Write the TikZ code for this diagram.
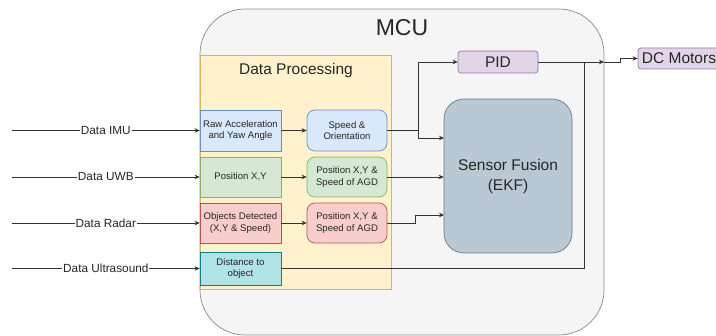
\documentclass[tikz,border=0pt]{standalone}
\usepackage{fontspec}
\setmainfont{Liberation Sans}
\usetikzlibrary{arrows.meta}

\definecolor{McuFill}{HTML}{F5F5F5}
\definecolor{McuLine}{HTML}{8A8A8A}
\definecolor{ProcFill}{HTML}{FFF2CC}
\definecolor{ProcLine}{HTML}{D6B656}
\definecolor{BlueFill}{HTML}{DAE8FC}
\definecolor{BlueLine}{HTML}{6C8EBF}
\definecolor{GreenFill}{HTML}{D5E8D4}
\definecolor{GreenLine}{HTML}{82B366}
\definecolor{RedFill}{HTML}{F8CECC}
\definecolor{RedLine}{HTML}{B85450}
\definecolor{TealFill}{HTML}{B0E3E6}
\definecolor{TealLine}{HTML}{0E8088}
\definecolor{PurpleFill}{HTML}{E1D5E7}
\definecolor{PurpleLine}{HTML}{9673A6}
\definecolor{FusionFill}{HTML}{BAC8D3}
\definecolor{FusionLine}{HTML}{5F7A91}

\tikzset{
  box/.style={draw, line width=0.7pt, inner sep=0pt, align=center,
    minimum width=81pt, minimum height=40pt, text=black!85,
    font=\fontsize{9.6}{11.7}\selectfont},
  rbox/.style={box, rounded corners=8pt, minimum width=80pt},
  wire/.style={draw=black!80, line width=0.7pt},
  arrow/.style={wire, -{Stealth[length=5pt,width=4.5pt]}},
  inlabel/.style={fill=white, inner sep=1pt, text=black!85,
    font=\fontsize{11.8}{13}\selectfont}
}

\begin{document}
\begin{tikzpicture}[x=1pt,y=-1pt]

 \useasboundingbox (0,0) rectangle (716,336);

 %%%%%%%%%% Points pour les connecteurs %%%%%%%%%%
 \coordinate (inimu) at (12,130.5);
 \coordinate (inuwb) at (12,177);
 \coordinate (inradar) at (12,223);
 \coordinate (inultra) at (12,268.5);
 \coordinate (j1) at (418,130.5);
 \coordinate (j2) at (415,223);
 \coordinate (j3) at (584,62);
 \coordinate (sfin1) at (444,138);
 \coordinate (sfin3) at (444,215);
 \coordinate (mcuedge) at (604,62);

 % MCU and Data Processing
 \node[draw=McuLine, fill=McuFill, line width=0.7pt, rounded corners=45pt,
   minimum width=404pt, minimum height=326pt] (mcu) at (402,172) {};
 \node[text=black!85, font=\fontsize{23}{26}\selectfont] (mcutitle) at (402,28) {MCU};
 \node[draw=ProcLine, fill=ProcFill, line width=0.7pt,
   minimum width=191pt, minimum height=234pt] (proc) at (295.5,172) {};
 \node[text=black!85, font=\fontsize{15.5}{18}\selectfont] (proctitle) at (296,70) {Data Processing};

 % First column
 \node[box, draw=BlueLine, fill=BlueFill, minimum height=41pt] (raw) at (240.5,130.5) {Raw Acceleration\\and Yaw Angle};
 \node[box, draw=GreenLine, fill=GreenFill] (posxy) at (240.5,177) {Position X,Y};
 \node[box, draw=RedLine, fill=RedFill] (obj) at (240.5,223) {Objects Detected\\(X,Y \& Speed)};
 \node[box, draw=TealLine, fill=TealFill, minimum height=33pt] (dist) at (240.5,268.5) {Distance to\\object};

 % Second column
 \node[rbox, draw=BlueLine, fill=BlueFill, minimum height=41pt] (speed) at (347,130.5) {Speed \&\\Orientation};
 \node[rbox, draw=GreenLine, fill=GreenFill] (posu) at (347,177) {Position X,Y \&\\Speed of AGD};
 \node[rbox, draw=RedLine, fill=RedFill] (posr) at (347,223) {Position X,Y \&\\Speed of AGD};

 % PID, fusion and motors
 \node[box, draw=PurpleLine, fill=PurpleFill, rounded corners=3pt, minimum width=80pt,
   minimum height=22pt, font=\fontsize{15.5}{18}\selectfont] (pid) at (498,62) {PID};
 \node[box, draw=FusionLine, fill=FusionFill, rounded corners=20pt, minimum width=128pt,
   minimum height=154pt, font=\fontsize{15.5}{20}\selectfont] (sf) at (508,176) {Sensor Fusion\\(EKF)};
 \node[box, draw=PurpleLine, fill=PurpleFill, rounded corners=3pt, minimum width=82pt,
   minimum height=21pt, font=\fontsize{15.5}{18}\selectfont] (dc) at (679,58.5) {DC Motors};

 % Inputs
 \draw[arrow] (inimu) -- node[inlabel] (lblimu) {Data IMU} (raw.west);
 \draw[arrow] (inuwb) -- node[inlabel] (lbluwb) {Data UWB} (posxy.west);
 \draw[arrow] (inradar) -- node[inlabel] (lblradar) {Data Radar} (obj.west);
 \draw[arrow] (inultra) -- node[inlabel] (lblultra) {Data Ultrasound} (dist.west);

 % Processing
 \draw[arrow] (raw.east) -- (speed.west);
 \draw[arrow] (posxy.east) -- (posu.west);
 \draw[arrow] (obj.east) -- (posr.west);

 % To fusion and PID
 \draw[wire] (speed.east) -- (j1);
 \draw[arrow] (j1) |- (pid.west);
 \draw[arrow] (j1) |- (sfin1);
 \draw[arrow] (posu.east) -- (posu.east -| sf.west);
 \draw[arrow] (posr.east) -- (j2) |- (sfin3);

 % Outputs
 \draw[wire] (dist.east) -| (j3);
 \draw[arrow] (pid.east) -- (mcuedge);
 \draw[arrow] (mcuedge) -- ++(16,0) |- (dc.west);

\end{tikzpicture}
\end{document}
